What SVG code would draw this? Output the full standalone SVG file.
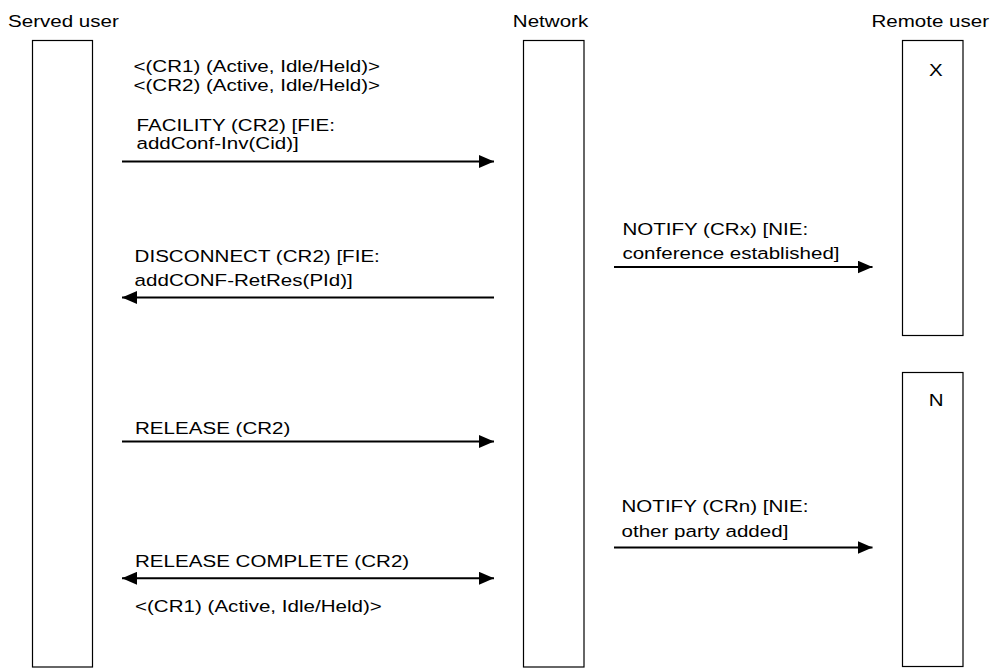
<svg xmlns="http://www.w3.org/2000/svg" width="995" height="668" viewBox="0 0 995 668">
  <style>
    .box { fill: #ffffff; stroke: #000000; stroke-width: 1.2; }
    .lbl { font-family: "Liberation Sans", Arial, Helvetica, sans-serif; font-size: 17px; fill: #000000; }
    .tight { font-size: 16.4px; }
    .msg { stroke: #000000; stroke-width: 2; fill: none; }
  </style>
  <defs>
    <marker id="head" markerUnits="userSpaceOnUse" markerWidth="15" markerHeight="13" refX="15" refY="6.5" orient="auto-start-reverse">
      <path d="M0,0 L15,6.5 L0,13 Z" fill="#000000"/>
    </marker>
  </defs>

  <rect width="995" height="668" fill="#ffffff"/>

  <!-- Lifelines -->
  <g id="served-user">
    <text class="lbl" transform="translate(8 27) scale(1.21 1)">Served user</text>
    <rect class="box" x="32.5" y="40.5" width="60" height="626.5"/>
  </g>
  <g id="network">
    <text class="lbl" transform="translate(512.8 27) scale(1.21 1)">Network</text>
    <rect class="box" x="523.5" y="40.5" width="60.5" height="626.5"/>
  </g>
  <g id="remote-user-x">
    <text class="lbl" transform="translate(871.4 27) scale(1.21 1)">Remote user</text>
    <rect class="box" x="902.5" y="40.5" width="60.5" height="295"/>
    <text class="lbl" transform="translate(929 75.5) scale(1.21 1)">X</text>
  </g>
  <g id="remote-user-n">
    <rect class="box" x="902.5" y="372.5" width="60.5" height="294"/>
    <text class="lbl" transform="translate(928.7 405.5) scale(1.21 1)">N</text>
  </g>

  <!-- State annotations -->
  <g id="states">
    <text class="lbl tight" transform="translate(133.5 72.2) scale(1.254 1)">&lt;(CR1) (Active, Idle/Held)&gt;</text>
    <text class="lbl tight" transform="translate(133.5 90.8) scale(1.254 1)">&lt;(CR2) (Active, Idle/Held)&gt;</text>
    <text class="lbl" transform="translate(135 611.5) scale(1.21 1)">&lt;(CR1) (Active, Idle/Held)&gt;</text>
  </g>

  <!-- Messages -->
  <g id="connectors">
    <line class="msg" x1="122" y1="161.5" x2="494" y2="161.5" marker-end="url(#head)"/>
    <line class="msg" x1="494" y1="297.5" x2="122" y2="297.5" marker-end="url(#head)"/>
    <line class="msg" x1="614" y1="267" x2="872.5" y2="267" marker-end="url(#head)"/>
    <line class="msg" x1="122" y1="441.5" x2="494" y2="441.5" marker-end="url(#head)"/>
    <line class="msg" x1="614" y1="547.5" x2="872.5" y2="547.5" marker-end="url(#head)"/>
    <line class="msg" x1="122" y1="578.3" x2="494" y2="578.3" marker-start="url(#head)" marker-end="url(#head)"/>
  </g>

  <g id="message-labels">
    <text class="lbl" transform="translate(136.5 131) scale(1.21 1)">FACILITY (CR2) [FIE:</text>
    <text class="lbl" transform="translate(136.5 149) scale(1.21 1)">addConf-Inv(Cid)]</text>

    <text class="lbl" transform="translate(134.6 262) scale(1.21 1)">DISCONNECT (CR2) [FIE:</text>
    <text class="lbl" transform="translate(134.6 286) scale(1.21 1)">addCONF-RetRes(PId)]</text>

    <text class="lbl" transform="translate(622.4 235) scale(1.21 1)">NOTIFY (CRx) [NIE:</text>
    <text class="lbl" transform="translate(622.4 259.3) scale(1.21 1)">conference established]</text>

    <text class="lbl" transform="translate(135 434.3) scale(1.21 1)">RELEASE (CR2)</text>

    <text class="lbl" transform="translate(621.5 512) scale(1.21 1)">NOTIFY (CRn) [NIE:</text>
    <text class="lbl" transform="translate(621.5 536.7) scale(1.21 1)">other party added]</text>

    <text class="lbl" transform="translate(135 566.7) scale(1.21 1)">RELEASE COMPLETE (CR2)</text>
  </g>
</svg>
